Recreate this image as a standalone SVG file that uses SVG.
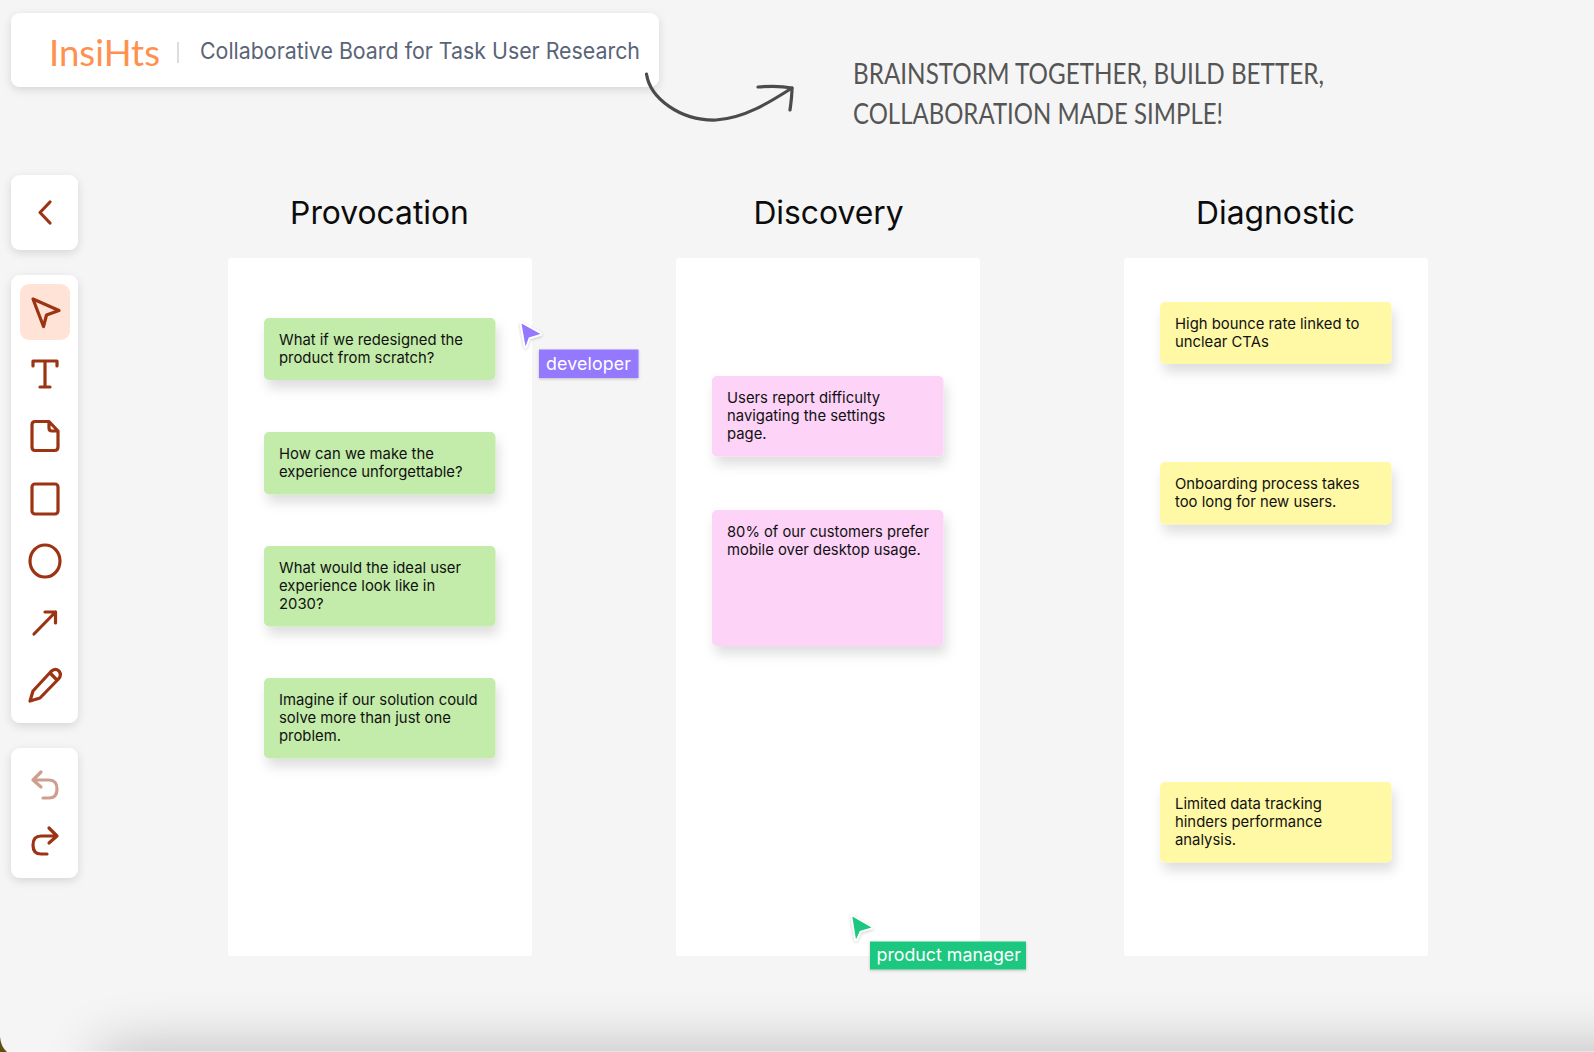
<svg xmlns="http://www.w3.org/2000/svg" width="1594" height="1052" viewBox="0 0 1594 1052">
<style>
text{font-family:"Inter","Liberation Sans",sans-serif}
.panel{fill:#fff;filter:url(#sh)}
.col{fill:#fff}
.title{font-size:31.800px;fill:#0c0c0c;text-anchor:middle}
.note{font-size:14.850px;fill:#111}
.g{fill:#c3eba9}.p{fill:#fdd3f8}.y{fill:#fff8a5}
.ic{fill:none;stroke:#9c3413;stroke-width:3.200;stroke-linecap:round;stroke-linejoin:round}
.hand{font-family:"Lato","Liberation Sans",sans-serif;font-size:28px;fill:#555}
.lbl{font-size:17.800px;fill:#fff}
.cur{stroke:#fff;stroke-width:3.500;stroke-linejoin:round;paint-order:stroke;filter:url(#csh)}
</style>
<defs>
<filter id="sh" x="-30%" y="-30%" width="160%" height="170%"><feDropShadow dx="0" dy="3" stdDeviation="4" flood-color="#000" flood-opacity=".13"/></filter>
<filter id="nsh" x="-20%" y="-30%" width="140%" height="180%"><feDropShadow dx="3" dy="8" stdDeviation="6" flood-color="#000" flood-opacity=".13"/></filter>
<filter id="csh" x="-50%" y="-50%" width="200%" height="200%"><feDropShadow dx="0" dy="1" stdDeviation="1.500" flood-color="#000" flood-opacity=".22"/></filter>
<filter id="bot" filterUnits="userSpaceOnUse" x="-100" y="900" width="1900" height="300"><feGaussianBlur stdDeviation="30"/></filter>
<clipPath id="bc"><path d="M0 0H1594V1052H7Q1 1047 0 1037Z"/></clipPath>
</defs>
<rect width="1594" height="1052" fill="#5f5012"/>
<path d="M0 0H1594V1052H7Q1 1047 0 1037Z" fill="#f5f5f5"/>
<g clip-path="url(#bc)"><rect x="100" y="1050" width="1700" height="90" fill="#000" opacity=".24" filter="url(#bot)"/></g>
<rect x="7" y="1051.300" width="1587" height=".7" fill="#fff" opacity=".6"/>

<g id="header">
<rect class="panel" x="11" y="13" width="648" height="74" rx="9"/>
<text x="49" y="66" style="font-family:'Lato','Liberation Sans',sans-serif" font-size="37" fill="#ff9150" textLength="111" lengthAdjust="spacingAndGlyphs">InsiHts</text>
<rect x="177" y="42" width="2" height="21" fill="#ddd"/>
<text x="200" y="59" font-size="22.500" fill="#5a6478" textLength="440" lengthAdjust="spacingAndGlyphs">Collaborative Board for Task User Research</text>
</g>
<g id="tagline">
<text class="hand" x="853" y="84" textLength="471" lengthAdjust="spacingAndGlyphs">BRAINSTORM TOGETHER, BUILD BETTER,</text>
<text class="hand" x="853" y="124" textLength="370" lengthAdjust="spacingAndGlyphs">COLLABORATION MADE SIMPLE!</text>
</g>
<g id="connectors" fill="none" stroke="#4b4b4b" stroke-width="3.200" stroke-linecap="round" stroke-linejoin="round">
<path d="M646.500 74C650 98 680 121 716 120C745 118 770 102 792 88"/>
<path d="M758 87C770 86 782 86 792 88C792 96 791 103 790 110"/>
</g>

<g id="back"><rect class="panel" x="11" y="175" width="67" height="75" rx="9"/><path class="ic" d="M50 202L40 212.500L50 223"/></g>
<g id="tools">
<rect class="panel" x="11" y="275" width="67" height="448" rx="9"/>
<rect x="20" y="284" width="50" height="56" rx="9" fill="#ffe3d6"/>
<path class="ic" d="M33 299L59 310.500L46.500 315L43.500 326.500Z"/>
<path class="ic" d="M33 366V361H57V366M45 361V387M40 387H50"/>
<path class="ic" d="M35 421.500H49L58 431V447Q58 450.500 54.500 450.500H35Q32 450.500 32 447V425Q32 421.500 35 421.500ZM49 421.500V428Q49 431 52 431H58"/>
<rect class="ic" x="32" y="484" width="26" height="30" rx="3"/>
<ellipse class="ic" cx="45" cy="561" rx="15" ry="16"/>
<path class="ic" d="M34 634L55.500 612M45 612H55.500V623"/>
<path class="ic" d="M30 701L33 691L51 671.500Q55 667.500 59 671Q62 675 58.500 679L40 698ZM50 673L57 680"/>
</g>
<g id="history">
<rect class="panel" x="11" y="748" width="67" height="130" rx="9"/>
<path class="ic" opacity=".48" d="M41 772L33 780L41 787M33 780H49Q57 780 57 789Q57 798 49 798H43"/>
<path class="ic" d="M49 828L57 836L49 843M57 836H41Q33 836 33 845Q33 854 41 854H47"/>
</g>

<g id="col-provocation">
<text class="title" x="379.500" y="224">Provocation</text>
<rect class="col" x="228" y="258" width="304" height="698" rx="3"/>
</g>
<g id="col-discovery">
<text class="title" x="828.500" y="224">Discovery</text>
<rect class="col" x="676" y="258" width="304" height="698" rx="3"/>
</g>
<g id="col-diagnostic">
<text class="title" x="1275.500" y="224">Diagnostic</text>
<rect class="col" x="1124" y="258" width="304" height="698" rx="3"/>
</g>

<g id="note-p1"><rect class="g" filter="url(#nsh)" x="264" y="318" width="231.500" height="62" rx="5"/><text class="note" x="279" y="345.200">What if we redesigned the</text><text class="note" x="279" y="363.200">product from scratch?</text></g>
<g id="note-p2"><rect class="g" filter="url(#nsh)" x="264" y="432" width="231.500" height="62.500" rx="5"/><text class="note" x="279" y="459.200">How can we make the</text><text class="note" x="279" y="477.200">experience unforgettable?</text></g>
<g id="note-p3"><rect class="g" filter="url(#nsh)" x="264" y="546" width="231.500" height="80.500" rx="5"/><text class="note" x="279" y="573.200">What would the ideal user</text><text class="note" x="279" y="591.200">experience look like in</text><text class="note" x="279" y="609.200">2030?</text></g>
<g id="note-p4"><rect class="g" filter="url(#nsh)" x="264" y="678" width="231.500" height="80.500" rx="5"/><text class="note" x="279" y="705.200">Imagine if our solution could</text><text class="note" x="279" y="723.200">solve more than just one</text><text class="note" x="279" y="741.200">problem.</text></g>

<g id="note-d1"><rect class="p" filter="url(#nsh)" x="712" y="376" width="231.500" height="80.500" rx="5"/><text class="note" x="727" y="403.200">Users report difficulty</text><text class="note" x="727" y="421.200">navigating the settings</text><text class="note" x="727" y="439.200">page.</text></g>
<g id="note-d2"><rect class="p" filter="url(#nsh)" x="712" y="510" width="231.500" height="136" rx="5"/><text class="note" x="727" y="537.200" textLength="202" lengthAdjust="spacingAndGlyphs">80% of our customers prefer</text><text class="note" x="727" y="555.200">mobile over desktop usage.</text></g>

<g id="note-g1"><rect class="y" filter="url(#nsh)" x="1160" y="302" width="231.500" height="62" rx="5"/><text class="note" x="1175" y="329.200">High bounce rate linked to</text><text class="note" x="1175" y="347.200">unclear CTAs</text></g>
<g id="note-g2"><rect class="y" filter="url(#nsh)" x="1160" y="462" width="231.500" height="62.500" rx="5"/><text class="note" x="1175" y="489.200">Onboarding process takes</text><text class="note" x="1175" y="507.200">too long for new users.</text></g>
<g id="note-g3"><rect class="y" filter="url(#nsh)" x="1160" y="782" width="231.500" height="80.500" rx="5"/><text class="note" x="1175" y="809.200">Limited data tracking</text><text class="note" x="1175" y="827.200">hinders performance</text><text class="note" x="1175" y="845.200">analysis.</text></g>

<g id="cursor-developer">
<path class="cur" d="M521.500 323.500L540.500 334L528.800 337.500L525.500 346.500Z" fill="#9479ff"/>
<rect x="539" y="349.500" width="99.500" height="28.500" fill="#9479ff" filter="url(#csh)"/>
<text class="lbl" x="546" y="370" letter-spacing=".15">developer</text>
</g>
<g id="cursor-pm">
<path class="cur" d="M852.300 916.500L871.500 927.500L859.800 931L856 939.500Z" fill="#1ec77f"/>
<rect x="870" y="941.500" width="156" height="28" fill="#1ec77f" filter="url(#csh)"/>
<text class="lbl" x="876.500" y="961">product manager</text>
</g>
</svg>
